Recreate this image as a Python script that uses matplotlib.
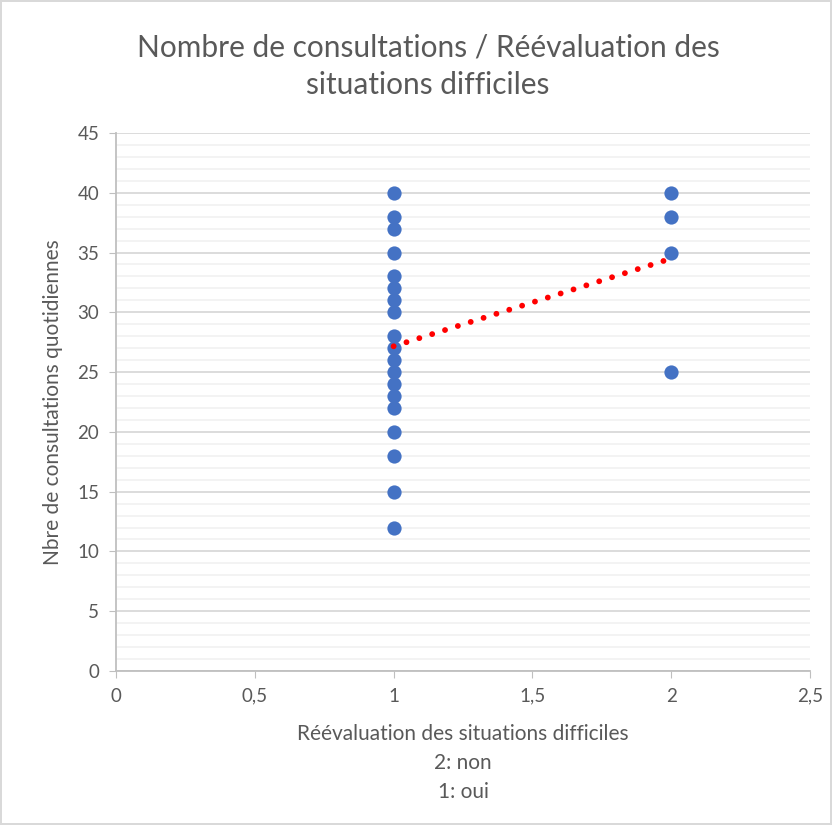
import numpy as np
import matplotlib
matplotlib.use('Agg')
import matplotlib.pyplot as plt
from matplotlib.ticker import MultipleLocator, FuncFormatter

# Réévaluation des situations difficiles (1: oui, 2: non)
x_oui = [1] * 19
y_oui = [40, 38, 37, 35, 33, 32, 31, 30, 28, 27, 26, 25, 24, 23, 22, 20, 18, 15, 12]
x_non = [2] * 4
y_non = [40, 38, 35, 25]

x_all = np.array(x_oui + x_non, dtype=float)
y_all = np.array(y_oui + y_non, dtype=float)

plt.rcParams['font.family'] = ['Lato', 'DejaVu Sans']
text_grey = '#595959'

fig = plt.figure(figsize=(8.32, 8.25), dpi=100)
fig.patch.set_edgecolor('#D9D9D9')
fig.patch.set_linewidth(1.5)
ax = fig.add_axes([0.1394, 0.1867, 0.8342, 0.6521])

ax.scatter(x_all, y_all, s=105, color='#4472C4', zorder=3, linewidths=0)

# linear trend line between the two groups
slope, intercept = np.polyfit(x_all, y_all, 1)
xt = np.array([x_all.min(), x_all.max()])
ax.plot(xt, slope * xt + intercept, color='red', lw=4.2,
        linestyle=(0, (0.01, 2.3)), dash_capstyle='round', zorder=4)

ax.set_xlim(0, 2.5)
ax.set_ylim(0, 45)
ax.xaxis.set_major_locator(MultipleLocator(0.5))
ax.yaxis.set_major_locator(MultipleLocator(5))
ax.yaxis.set_minor_locator(MultipleLocator(1))
ax.xaxis.set_major_formatter(FuncFormatter(lambda v, p: ('%g' % v).replace('.', ',')))

ax.grid(True, which='major', axis='y', color='#D9D9D9', lw=1.3)
ax.grid(True, which='minor', axis='y', color='#F2F2F2', lw=1.3)
ax.set_axisbelow(True)

for s in ['top', 'right']:
    ax.spines[s].set_visible(False)
for s in ['left', 'bottom']:
    ax.spines[s].set_color('#BFBFBF')
    ax.spines[s].set_linewidth(1.3)

ax.tick_params(which='major', direction='out', length=5, color='#BFBFBF',
               labelcolor=text_grey, labelsize=13.5, pad=7)
ax.tick_params(which='minor', length=0)

fig.text(428 / 832, 1 - 66 / 825,
         'Nombre de consultations / Réévaluation des\nsituations difficiles',
         ha='center', va='center', fontsize=21.5, color=text_grey, linespacing=1.4)
ax.set_xlabel('Réévaluation des situations difficiles\n2: non\n1: oui',
              fontsize=15, color=text_grey, labelpad=14, linespacing=1.55)
ax.set_ylabel('Nbre de consultations quotidiennes', fontsize=15,
              color=text_grey, labelpad=10)

fig.savefig('out.png', dpi=100, edgecolor=fig.get_edgecolor())
